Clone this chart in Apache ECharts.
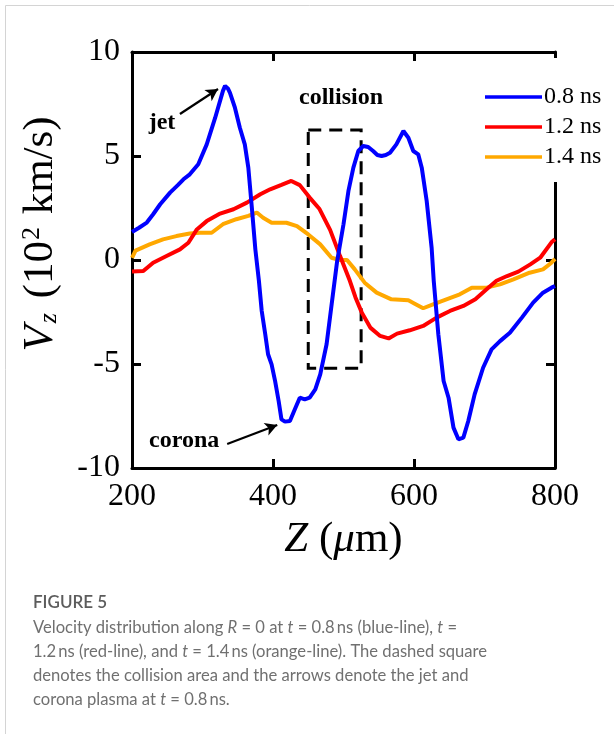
<!DOCTYPE html>
<html>
<head>
<meta charset="utf-8">
<script src="https://cdn.jsdelivr.net/npm/echarts@6/dist/echarts.min.js"></script>
<style>
html,body{margin:0;padding:0;background:#fff;}
#c{width:614px;height:734px;}
</style>
</head>
<body>
<div id="c"></div>
<script>
// ---- data ----
const seriesNames = ['0.8 ns', '1.2 ns', '1.4 ns'];
const xTicks = [200, 400, 600, 800];
const yTicks = [-10, -5, 0, 5, 10];

const blueZ = [200,210,221,230,240,254,265,273,282,294,306,318,329,332,336,339,346,353,360,365,370,375,380,384,389,393,398,403,408,412,417,424,431,438,445,452,460,467,476,485,491,500,507,514,521,528,535,542,548,554,560,566,575,585,592,599,606,611,618,625,628,634.5,642,649,656,663,670,677,686,698,710,722,736,753,769,783,795,800];
const blueV = [1.35,1.55,1.8,2.2,2.68,3.24,3.6,3.88,4.12,4.6,5.56,6.84,8.13,8.37,8.25,8.04,7.32,6.36,5.56,4.44,2.51,0.5,-1.0,-2.45,-3.57,-4.53,-5.02,-5.82,-6.78,-7.66,-7.77,-7.74,-7.18,-6.62,-6.7,-6.62,-6.22,-5.5,-4.05,-1.65,-0.05,1.72,3.32,4.44,5.24,5.48,5.43,5.24,5.05,5.0,5.05,5.16,5.56,6.2,5.88,5.24,5.08,4.44,2.84,0.59,-1.0,-3.57,-5.82,-6.62,-8.06,-8.62,-8.54,-7.74,-6.46,-5.18,-4.3,-3.9,-3.5,-2.77,-2.05,-1.57,-1.33,-1.25];

const redZ = [200,216,230,249,268,280,292,306,325,344,363,382,396,412,426,438,452,466,481,495,509,517,526,538,552,564,576,594,613,632,651,670,687,703,717,732,748,765,779,795,800];
const redV = [-0.55,-0.53,-0.13,0.19,0.51,0.83,1.47,1.87,2.23,2.44,2.76,3.16,3.4,3.61,3.8,3.6,3.0,2.45,1.45,0.2,-1.0,-1.8,-2.53,-3.25,-3.65,-3.77,-3.54,-3.38,-3.17,-2.77,-2.45,-2.21,-1.89,-1.41,-1.0,-0.77,-0.56,-0.21,0.11,0.85,1.0];

const orangeZ = [200,205,209,225,244,263,282,296,313,329,348,365,377,386,398,419,434,450,467,483,495,505,516,530,547,568,592,601,613,627,646,665,682,703,722,741,764,783,795,800];
const orangeV = [0.1,0.45,0.51,0.75,0.99,1.15,1.27,1.31,1.31,1.72,1.96,2.12,2.28,2.03,1.79,1.79,1.63,1.23,0.75,0.11,0.0,0.0,-0.45,-1.09,-1.57,-1.89,-1.94,-2.1,-2.32,-2.13,-1.89,-1.65,-1.33,-1.33,-1.17,-0.93,-0.61,-0.45,-0.13,0.05];

// collision box corners [Z, V]
const collisionBox = [[450, 6.25], [525, -5.2]];
// annotation arrows: [from, to] in data coords
const jetArrow = [[268, 7.02], [322, 8.22]];
const coronaArrow = [[335, -8.85], [406, -7.93]];
// annotation labels
const annoLabels = [
  {text: 'jet', at: [242.5, 6.59]},
  {text: 'corona', at: [274, -8.7]},
  {text: 'collision', at: [496.5, 7.79]}
];

const captionTitle = 'FIGURE 5';
const captionLines = [
  'Velocity distribution along {i|R} = 0 at {i|t} = 0.8\u2009ns (blue-line), {i|t} =',
  '1.2\u2009ns (red-line), and {i|t} = 1.4\u2009ns (orange-line). The dashed square',
  'denotes the collision area and the arrows denote the jet and',
  'corona plasma at {i|t} = 0.8\u2009ns.'
];

const colors = ['#0000FF', '#FF0000', '#FFA800'];
const serif = 'Liberation Serif';

function pairs(xs, ys) { return xs.map((x, i) => [x, ys[i]]); }

const chart = echarts.init(document.getElementById('c'), null, {renderer: 'canvas'});

const axisLineStyle = {color: '#000', width: 3};
const tickStyle = {show: true, inside: true, length: 9, lineStyle: {color: '#000', width: 3}};

const option = {
  animation: false,
  backgroundColor: '#fff',
  grid: {left: 132, right: 59, top: 52, bottom: 266, containLabel: false},
  xAxis: [
    {
      type: 'value', position: 'bottom', min: xTicks[0], max: xTicks[xTicks.length - 1], interval: 200,
      axisLine: {show: true, onZero: false, lineStyle: axisLineStyle},
      axisTick: tickStyle,
      splitLine: {show: false},
      axisLabel: {fontFamily: serif, fontSize: 32, color: '#000', margin: 13},
      name: '{i|Z} ({i|\u03bc}m)',
      nameLocation: 'middle', nameGap: 50,
      nameTextStyle: {fontFamily: serif, fontSize: 43, color: '#000',
        rich: {i: {fontFamily: serif, fontSize: 43, fontStyle: 'italic', color: '#000'}}}
    },
    {
      type: 'value', position: 'top', min: xTicks[0], max: xTicks[xTicks.length - 1], interval: 200,
      axisLine: {show: true, onZero: false, lineStyle: axisLineStyle},
      axisTick: tickStyle, splitLine: {show: false}, axisLabel: {show: false}
    }
  ],
  yAxis: [
    {
      type: 'value', position: 'left', min: yTicks[0], max: yTicks[yTicks.length - 1], interval: 5,
      axisLine: {show: true, onZero: false, lineStyle: axisLineStyle},
      axisTick: tickStyle, splitLine: {show: false},
      axisLabel: {fontFamily: serif, fontSize: 32, color: '#000', margin: 12},
      name: '{i|V}{sub|z} (10{sup|2} km/s)',
      nameLocation: 'middle', nameGap: 70, nameRotate: 90,
      nameTextStyle: {fontFamily: serif, fontSize: 43, color: '#000', padding: [0, 0, 0, 52],
        rich: {
          i: {fontFamily: serif, fontSize: 43, fontStyle: 'italic', color: '#000'},
          sub: {fontFamily: serif, fontSize: 26, fontStyle: 'italic', color: '#000', verticalAlign: 'bottom', padding: [0, 4, 0, 2]},
          sup: {fontFamily: serif, fontSize: 26, color: '#000', verticalAlign: 'top', padding: [0, 2, 0, 1]}
        }}
    },
    {
      type: 'value', position: 'right', min: yTicks[0], max: yTicks[yTicks.length - 1], interval: 5,
      axisLine: {show: true, onZero: false, lineStyle: axisLineStyle},
      axisTick: tickStyle, splitLine: {show: false}, axisLabel: {show: false}
    }
  ],
  legend: {
    data: seriesNames, orient: 'vertical', left: 482, top: 58,
    padding: [27, 4, 13, 3], backgroundColor: '#fff',
    icon: 'rect', itemWidth: 57, itemHeight: 3.5, itemGap: 6,
    textStyle: {fontFamily: serif, fontSize: 24, color: '#000', lineHeight: 24, padding: [0, 0, 0, -3]},
    selectedMode: false, z: 10
  },
  series: [
    {
      name: seriesNames[0], type: 'line', data: pairs(blueZ, blueV),
      showSymbol: false, symbol: 'none', lineStyle: {color: colors[0], width: 4}, itemStyle: {color: colors[0]}, z: 5,
      markArea: {
        silent: true,
        itemStyle: {color: 'rgba(0,0,0,0)', borderColor: '#000', borderWidth: 3, borderType: [13, 8]},
        data: [[{coord: collisionBox[0]}, {coord: collisionBox[1]}]]
      },
      markLine: {
        silent: true, symbol: ['none', 'arrow'], symbolSize: [10, 12],
        label: {show: false},
        lineStyle: {color: '#000', width: 2.2, type: 'solid'},
        data: [
          [{coord: jetArrow[0]}, {coord: jetArrow[1]}],
          [{coord: coronaArrow[0]}, {coord: coronaArrow[1]}]
        ]
      },
      markPoint: {
        silent: true, symbol: 'circle', symbolSize: 0,
        label: {show: true, position: 'inside', fontFamily: serif, fontWeight: 'bold', fontSize: 24, color: '#000'},
        data: annoLabels.map(a => ({coord: a.at, value: a.text, label: {formatter: a.text}}))
      }
    },
    {
      name: seriesNames[1], type: 'line', data: pairs(redZ, redV),
      showSymbol: false, symbol: 'none', lineStyle: {color: colors[1], width: 4}, itemStyle: {color: colors[1]}, z: 4
    },
    {
      name: seriesNames[2], type: 'line', data: pairs(orangeZ, orangeV),
      showSymbol: false, symbol: 'none', lineStyle: {color: colors[2], width: 4}, itemStyle: {color: colors[2]}, z: 3
    }
  ],
  graphic: [
    {type: 'polyline', shape: {points: [[5.5, 734], [5.5, 5.5], [614, 5.5]]}, style: {stroke: '#d4d4d4', lineWidth: 1, fill: null}, silent: true},
    {type: 'text', left: 33, top: 594, style: {text: captionTitle, font: '600 17px Lato', fill: '#5c5c5c'}},
  ].concat(captionLines.map((t, i) => ({
    type: 'text', left: 33, top: 619 + i * 24,
    style: {text: t, font: '16.6px Lato', fill: '#707070',
      rich: {i: {fontStyle: 'italic', fontFamily: 'Lato', fontSize: 16.6, fill: '#707070'}}}
  })))
};
chart.setOption(option);
</script>
</body>
</html>
